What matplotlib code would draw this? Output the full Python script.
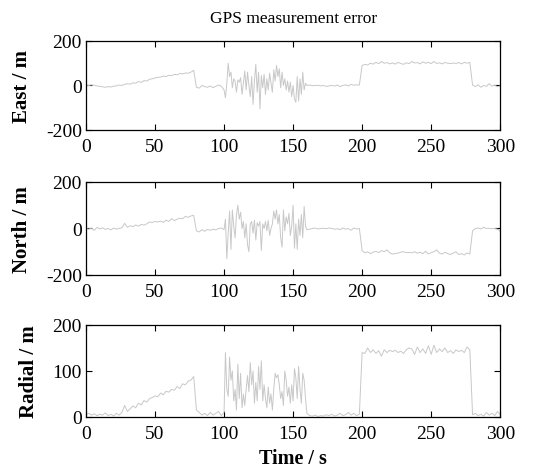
import numpy as np
import matplotlib
matplotlib.use('Agg')
import matplotlib.pyplot as plt

plt.rcParams['font.family'] = ['Liberation Serif', 'DejaVu Serif']
plt.rcParams['axes.unicode_minus'] = False

# time grid: 2 s steps, 1 s steps in the noisy part 100-160 s
t = np.concatenate([np.arange(0, 100, 2), np.arange(100, 161, 1), np.arange(162, 301, 2)])

# East error (m)
east = [2, 0, 3, 1, -2, -4, -6, -8, -5, -7,
        -3, -2, 2, 0, 5, 8, 6, 12, 10, 18,
        14, 22, 20, 28, 30, 34, 36, 38, 42, 40,
        46, 44, 50, 48, 54, 52, 56, 55, 60, 68,
        -8, -12, 0, -5, -8, -2, -10, -4, 2, -3,
        # 100..160
        -20, -55, 10, 100, 40, 60, -10, 30, 20, -30,
        25, 15, 35, -40, 10, 65, -20, 60, 0, -50,
        40, -85, 20, 95, -30, 60, -105, 45, -10, 50,
        -40, 30, -20, 55, 10, -30, 70, 20, 90, 40,
        75, -10, 60, 0, 30, -20, 20, -30, 15, -50,
        0, -60, -75, 40, -70, 30, -40, 60, -20, 10,
        0,
        # 162..300
        2, -1, 0, 1, -2, 0, -4, -2, 1, -3,
        2, -5, 0, 3, -2, 5, 1, 3, 2, 90,
        95, 92, 100, 96, 104, 98, 108, 100, 103, 97,
        101, 96, 104, 99, 95, 102, 98, 108, 101, 103,
        97, 106, 100, 104, 98, 108, 99, 102, 97, 103,
        100, 98, 101, 99, 103, 97, 104, 100, 104, 2,
        -5, 3, -8, 0, -4, 8, -3, 2, -6, -2]

# North error (m)
north = [0, -3, 2, -8, 5, -2, 3, -4, 0, -6,
         2, -3, 0, 3, 22, 5, 12, 8, 15, 10,
         18, 14, 20, 28, 26, 30, 28, 32, 26, 36,
         30, 42, 34, 40, 44, 42, 52, 48, 54, 56,
         -10, -15, -5, -12, -4, -8, -3, -6, 0, 2,
         # 100..160
         -5, 40, -130, -20, 75, -90, 80, 10, -40, 60,
         100, 40, 70, 0, 30, -40, 20, -70, -100, 20,
         30, -20, 35, -50, 25, 10, 30, -95, 20, 0,
         30, -10, 35, -30, 0, 20, 75, 40, 80, 20,
         60, -40, -80, 80, -10, 50, 20, 65, -30, 10,
         100, -85, 20, -90, 40, -30, 60, -40, 95, 10,
         -5,
         # 162..300
         -3, 0, 2, -2, 0, 1, -1, 2, 0, -3,
         -1, -5, 2, -3, 0, -8, 2, -2, 0, -95,
         -105, -100, -108, -102, -98, -104, -95, -100, -92, -105,
         -110, -108, -106, -102, -100, -104, -103, -105, -100, -106,
         -102, -108, -98, -110, -104, -100, -92, -106, -110, -102,
         -108, -112, -106, -100, -112, -108, -114, -105, -110, -10,
         0, 2, -2, 5, 0, 1, -1, 0, -3, -12]

# Radial error (m)
radial = [5, 8, 4, 7, 3, 6, 4, 9, 3, 6,
          2, 8, 4, 10, 25, 12, 18, 24, 20, 30,
          26, 36, 32, 40, 42, 46, 44, 52, 48, 56,
          54, 60, 58, 66, 62, 72, 70, 78, 80, 88,
          15, 10, 4, 8, 3, 10, 4, 8, 12, 3,
          # 100..160
          10, 140, 60, 45, 130, 80, 100, 35, 60, 15,
          115, 40, 95, 20, 50, 25, 60, 90, 55, 118,
          70, 100, 30, 75, 35, 110, 60, 122, 35, 70,
          40, 20, 65, 30, 50, 15, 60, 95, 85, 92,
          70, 40, 55, 25, 100, 80, 45, 65, 30, 70,
          35, 105, 85, 40, 110, 60, 30, 95, 80, 40,
          8,
          # 162..300
          3, 2, 4, 1, 3, 2, 5, 3, 6, 2,
          4, 8, 3, 5, 10, 4, 8, 3, 6, 140,
          138, 150, 140, 146, 138, 144, 132, 146, 140, 145,
          142, 145, 140, 143, 138, 146, 150, 148, 136, 152,
          140, 148, 138, 155, 136, 156, 140, 148, 142, 150,
          140, 144, 138, 146, 142, 145, 140, 152, 146, 5,
          8, 3, 6, 2, 10, 4, 8, 3, 12, 5]

series = [east, north, radial]
ylabels = ['East / m', 'North / m', 'Radial / m']
ylims = [(-200, 200), (-200, 200), (0, 200)]
yticks = [[-200, 0, 200], [-200, 0, 200], [0, 100, 200]]
xticks = [0, 50, 100, 150, 200, 250, 300]

fig = plt.figure(figsize=(5.53, 4.77), dpi=100)
rects = [[0.1555, 0.7254, 0.749, 0.1866],
         [0.1555, 0.4214, 0.749, 0.195],
         [0.1555, 0.1237, 0.749, 0.193]]

for i in range(3):
    ax = fig.add_axes(rects[i])
    ax.plot(t, series[i], color='#c8c8c8', lw=0.7)
    ax.set_xlim(0, 300)
    ax.set_ylim(*ylims[i])
    ax.set_xticks(xticks)
    ax.set_yticks(yticks[i])
    ax.tick_params(direction='in', top=True, right=True, labelsize=14,
                   length=4, width=0.8, pad=3)
    ax.tick_params(axis='x', pad=6)
    ax.set_ylabel(ylabels[i], fontsize=15, fontweight='bold', labelpad=10)
    for s in ax.spines.values():
        s.set_linewidth(0.9)
    if i == 0:
        ax.set_title('GPS measurement error', fontsize=12.5, pad=14)
    if i == 2:
        ax.set_xlabel('Time / s', fontsize=14.5, fontweight='bold', labelpad=4)

fig.savefig('out.png', dpi=100)
